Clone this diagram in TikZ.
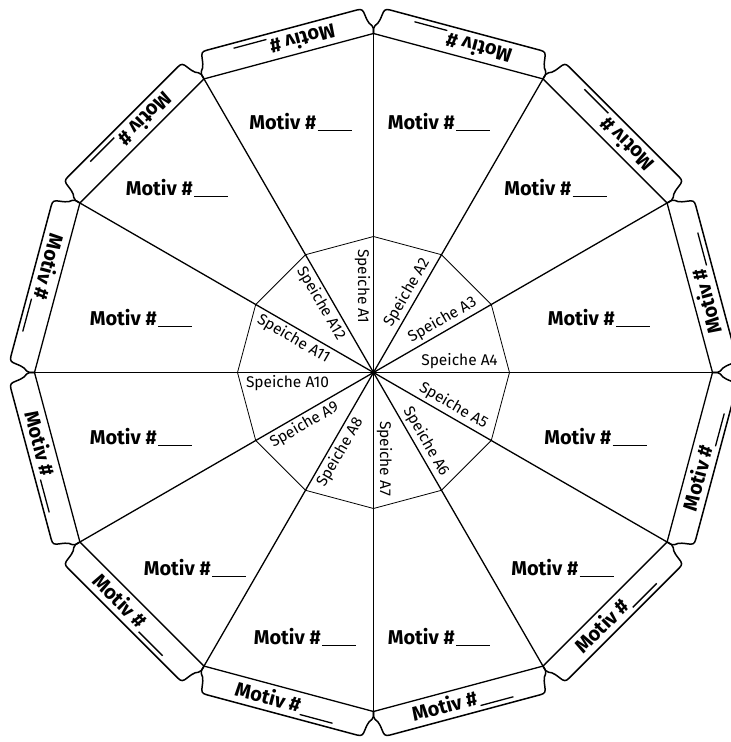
\documentclass[tikz,border=0pt]{standalone}
\usepackage{fontspec}
\setmainfont{Fira Sans}
\newcommand\motivtext{Motiv \#\hspace{1.5pt}\rule[-2pt]{34pt}{1.3pt}}
\begin{document}
\begin{tikzpicture}[x=1pt,y=1pt,
  spoke/.style={line width=1.3pt},
  outerpoly/.style={line width=1.3pt, line join=round},
  innerpoly/.style={line width=0.8pt, line join=round},
  tabline/.style={line width=1.5pt, line join=round, line cap=round},
  motiv/.style={font=\fontsize{20}{23}\selectfont\bfseries, inner sep=0pt},
  speiche/.style={font=\fontsize{15.5}{18}\selectfont, inner sep=0pt}]
\useasboundingbox (-373.5,-369.5) rectangle (357.5,372.5);
\def\R{339}
\def\Ri{136}
\def\h{87.74}
\coordinate (c) at (0,0);
% inner polygon
\draw[innerpoly] (0:\Ri) \foreach \a in {30,60,...,330}{ -- (\a:\Ri)} -- cycle;
% outer polygon
\draw[outerpoly] (0:\R) \foreach \a in {30,60,...,330}{ -- (\a:\R)} -- cycle;
% spokes
\foreach \a in {0,30,...,330} {
  \coordinate (v\a) at (\a:\R);
  \draw[spoke] (c) -- (v\a);
}
% tabs
\foreach \m in {15,45,...,345} {
  \begin{scope}[shift={(\m:327.45)}, rotate=\m-90]
    \draw[tabline] (-\h,0) -- (-\h-1.3,4.8)
      .. controls (-\h-1.8,7.5) and (-\h+0.5,9) .. (-\h+1.5,11)
      .. controls (-\h+2.5,13) and (-\h+3,16) .. (-\h+3.5,20)
      .. controls (-\h+4,25.5) and (-\h+5,27) .. (-\h+10,27)
      -- (\h-10,27)
      .. controls (\h-5,27) and (\h-4,25.5) .. (\h-3.5,20)
      .. controls (\h-3,16) and (\h-2.5,13) .. (\h-1.5,11)
      .. controls (\h-0.5,9) and (\h+1.8,7.5) .. (\h+1.3,4.8)
      -- (\h,0);
  \end{scope}
  \node[motiv, rotate=\m+90] (t\m) at (\m:340.95) {\motivtext};
}
% sector labels
\foreach \x/\y [count=\i] in {-73/250.5, 65.5/250.5, -196.5/184.5, 182/184.5,
  -232.5/54.5, 225.5/54.5, -232.5/-64.5, 222/-64.5, -178.5/-195.5, 189/-195.5,
  -68.5/-264.5, 65.5/-264.5} {
  \node[motiv] (m\i) at (\x,\y) {\motivtext};
}
% spoke labels
\foreach \k in {1,...,12} {
  \pgfmathsetmacro\t{90-30*(\k-1)}
  \pgfmathsetmacro\r{(\k>1 && \k<8) ? \t : \t+180}
  \node[speiche, rotate=\r] (s\k) at ([shift={(\t+90:11)}]\t:86) {Speiche A\k};
}
\end{tikzpicture}
\end{document}
